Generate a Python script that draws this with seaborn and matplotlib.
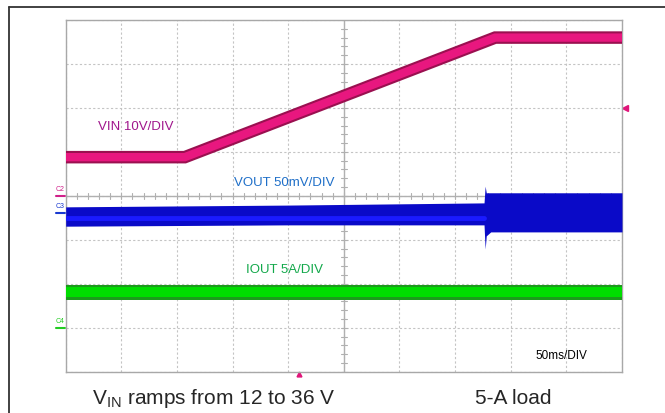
import numpy as np
import pandas as pd
import matplotlib.pyplot as plt
import seaborn as sns
from matplotlib.lines import Line2D

# data (time in ms, 50 ms/div; levels in divisions from bottom)
vin_t = [0, 107, 386, 500]
vin_div = [4.88, 4.88, 7.60, 7.60]

vout_t = [0, 200, 376, 377, 378, 382, 500]
vout_hi = [3.75, 3.79, 3.84, 4.22, 4.07, 4.07, 4.07]
vout_lo = [3.31, 3.34, 3.34, 2.79, 3.09, 3.18, 3.18]
vout_core_t = [0, 376]
vout_core = [3.49, 3.49]

iout_t = [0, 500]
iout_hi = [1.98, 1.98]
iout_lo = [1.62, 1.62]

labels = ["VIN 10V/DIV", "VOUT 50mV/DIV", "IOUT 5A/DIV"]

sns.set_style("white")
plt.rcParams['font.family'] = ['Liberation Sans', 'DejaVu Sans']
plt.rcParams['mathtext.default'] = 'regular'

fig = plt.figure(figsize=(6.65, 4.13), dpi=100)
ax = fig.add_axes([65.7 / 665, 1 - 371.7 / 413, 556.3 / 665, 351.7 / 413])
ax.set_xlim(0, 500)
ax.set_ylim(0, 8)

# scope graticule
ax.set_xticks(np.arange(0, 501, 50))
ax.set_yticks(np.arange(0, 9, 1))
ax.grid(True, color='#c4c4c4', linestyle=(0, (2, 2)), linewidth=0.8)
ax.tick_params(length=0, labelbottom=False, labelleft=False)
for s in ax.spines.values():
    s.set_color('#a8a8a8')
    s.set_linewidth(1)
ax.axvline(250, color='#b0b0b0', lw=1, zorder=1)
ax.axhline(4, color='#b0b0b0', lw=1, zorder=1)
for xx in np.arange(0, 500, 10):
    ax.plot([xx, xx], [4 - 0.07, 4 + 0.07], color='#b0b0b0', lw=0.8, zorder=1)
for yy in np.arange(0, 8, 0.2):
    ax.plot([250 - 2.7, 250 + 2.7], [yy, yy], color='#b0b0b0', lw=0.8, zorder=1)

# IOUT
ax.fill_between(iout_t, iout_lo, iout_hi, color='#1c9a1c', lw=0, zorder=3)
ax.fill_between(iout_t, np.array(iout_lo) + 0.07, np.array(iout_hi) - 0.06,
                color='#00dd00', lw=0, zorder=3)

# VOUT
ax.fill_between(vout_t, vout_lo, vout_hi, color='#0a0ac8', lw=0, zorder=3)
sns.lineplot(x=vout_core_t, y=vout_core, ax=ax, color='#1a1aff', lw=3.5, zorder=4)

# VIN
df = pd.DataFrame({"t": vin_t, "v": vin_div})
sns.lineplot(data=df, x="t", y="v", ax=ax, color='#9a1050', lw=9, zorder=5,
             solid_capstyle='butt', solid_joinstyle='miter')
sns.lineplot(data=df, x="t", y="v", ax=ax, color='#e8177f', lw=6, zorder=6,
             solid_capstyle='butt', solid_joinstyle='miter')
ax.set_xlabel("")
ax.set_ylabel("")

# trace labels
ax.text(29, 5.57, labels[0], color='#a0168c', fontsize=9.5, ha='left', va='center')
ax.text(151, 4.30, labels[1], color='#1f6fc8', fontsize=9.5, ha='left', va='center')
ax.text(162, 2.31, labels[2], color='#12a84a', fontsize=9.5, ha='left', va='center')
ax.text(422, 0.36, "50ms/DIV", color='black', fontsize=8.5, ha='left', va='center')

# channel ground markers
for name, lvl, col in [("C2", 4.0, '#d0208a'), ("C3", 3.61, '#1a3ad0'), ("C4", 1.0, '#22cc22')]:
    ax.text(-5, lvl + 0.14, name, color=col, fontsize=5, ha='center', va='center', clip_on=False)
    ax.plot([-8.5, -0.5], [lvl, lvl], color=col, lw=1.5, clip_on=False)

ax.plot([502.7], [6.0], marker='<', color='#e0157a', ms=5, clip_on=False)
ax.plot([210], [-0.06], marker='^', color='#e0157a', ms=3.5, clip_on=False)

# frame lines
fig.add_artist(Line2D([8.5 / 665, 1], [1 - 7 / 413] * 2, transform=fig.transFigure, color='#333333', lw=1.3))
fig.add_artist(Line2D([8.5 / 665] * 2, [0, 1 - 7 / 413], transform=fig.transFigure, color='#333333', lw=1.3))

# caption
fig.text(92 / 665, 1 - 398 / 413, r"V$_{IN}$ ramps from 12 to 36 V", fontsize=15, ha='left', va='center')
fig.text(475 / 665, 1 - 398 / 413, "5-A load", fontsize=15, ha='left', va='center')

fig.savefig("out.png", dpi=100)
